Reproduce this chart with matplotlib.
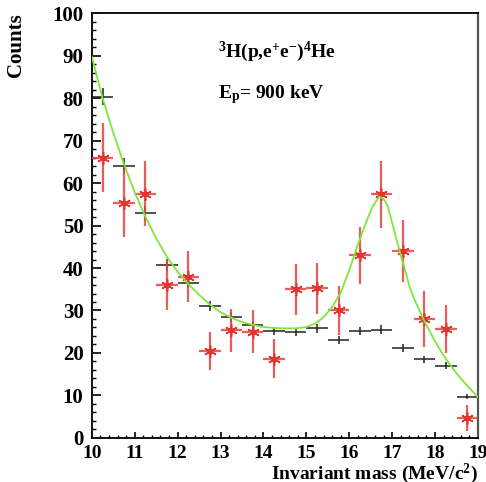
import matplotlib
matplotlib.use('Agg')
import matplotlib.pyplot as plt
from matplotlib.ticker import MultipleLocator
import numpy as np

plt.rcParams['font.family'] = 'Liberation Serif'
plt.rcParams['font.weight'] = 'bold'
plt.rcParams['mathtext.fontset'] = 'custom'
plt.rcParams['mathtext.rm'] = 'Liberation Serif:bold'
plt.rcParams['mathtext.it'] = 'Liberation Serif:bold'
plt.rcParams['mathtext.bf'] = 'Liberation Serif:bold'
plt.rcParams['mathtext.default'] = 'rm'

# bin centres (0.5 MeV/c^2 bins)
mass = np.arange(10.25, 19.0, 0.5)
bin_half = 0.25

# black points (expected background)
bkg = [80.3, 64.0, 53.0, 40.7, 36.5, 31.0, 28.5, 26.5, 25.2,
       25.0, 25.8, 23.0, 25.2, 25.5, 21.2, 18.5, 17.0, 9.7]
bkg_err = [2.0, 1.8, 1.6, 1.4, 1.3, 1.2, 1.1, 1.0, 0.9,
           0.9, 1.0, 0.9, 0.9, 1.0, 0.9, 0.8, 0.8, 0.6]

# red points (measured)
meas = [66.0, 55.3, 57.5, 36.0, 38.0, 20.5, 25.3, 25.0, 18.7,
        35.0, 35.2, 30.0, 43.0, 57.3, 44.0, 28.0, 25.7, 4.7]
meas_err = [8.2, 8.0, 7.6, 6.0, 6.0, 4.5, 5.0, 5.0, 4.6,
            6.0, 6.0, 5.7, 6.7, 7.9, 7.2, 6.5, 5.6, 3.0]

# fit curve
fit_x = [10.0, 10.25, 10.5, 10.75, 11.0, 11.25, 11.5, 11.75, 12.0, 12.25,
         12.5, 12.75, 13.0, 13.25, 13.5, 13.75, 14.0, 14.25, 14.5, 14.75,
         15.0, 15.2, 15.4, 15.6, 15.8, 16.0, 16.2, 16.4, 16.55, 16.7,
         16.8, 16.9, 17.0, 17.1, 17.2, 17.3, 17.4, 17.5, 17.6, 17.75,
         18.0, 18.25, 18.5, 18.75, 19.0]
fit_y = [89.7, 80.0, 71.8, 64.4, 57.8, 52.0, 47.0, 42.6, 39.1, 36.2,
         33.7, 31.4, 29.6, 28.3, 27.3, 26.6, 26.1, 25.9, 25.8, 25.8,
         26.1, 26.9, 28.4, 30.8, 34.2, 39.5, 45.5, 51.0, 54.6, 56.8,
         56.3, 54.5, 50.6, 46.8, 43.0, 39.5, 35.8, 33.0, 30.8, 27.5,
         22.7, 18.6, 15.2, 12.3, 9.6]

fig = plt.figure(figsize=(4.86, 4.82), dpi=100)
ax = fig.add_axes([0.189, 0.0913, 0.7945, 0.8817])

ax.errorbar(mass, bkg, xerr=bin_half, yerr=bkg_err, fmt='none',
            ecolor='#222222', elinewidth=1.1, capsize=0, zorder=2)
ax.errorbar(mass, meas, xerr=bin_half, yerr=meas_err, fmt='none',
            ecolor='#e8413c', elinewidth=1.6, capsize=0, alpha=0.85, zorder=3)
ax.plot(mass, meas, linestyle='none', marker=(6, 2, 0), markersize=9,
        markeredgecolor='#e3342f', markeredgewidth=1.1, zorder=4)
ax.plot(mass, meas, linestyle='none', marker='o', markersize=3,
        color='#e3342f', zorder=4)
ax.plot(fit_x, fit_y, color='#7ee83a', lw=1.3, zorder=5)

ax.set_xlim(10, 19)
ax.set_ylim(0, 100)
ax.xaxis.set_major_locator(MultipleLocator(1))
ax.xaxis.set_minor_locator(MultipleLocator(0.2))
ax.yaxis.set_major_locator(MultipleLocator(10))
ax.yaxis.set_minor_locator(MultipleLocator(2))
ax.tick_params(axis='both', which='both', direction='in', top=False, right=False)
ax.tick_params(axis='y', which='major', length=6.5, width=1.2, pad=6, labelsize=15)
ax.tick_params(axis='y', which='minor', length=3, width=1.0)
ax.tick_params(axis='x', which='major', length=4.3, width=1.2, pad=5, labelsize=14)
ax.tick_params(axis='x', which='minor', length=2.2, width=1.0)
for lab in ax.get_xticklabels() + ax.get_yticklabels():
    lab.set_fontweight('bold')

for side in ['left', 'bottom', 'top']:
    ax.spines[side].set_linewidth(1.4)
    ax.spines[side].set_color('#111111')
ax.spines['right'].set_linewidth(1.6)
ax.spines['right'].set_color('#555555')

ax.set_xlabel('Invariant mass (MeV/c$^{2}$)', fontsize=14, fontweight='bold',
              loc='right', labelpad=0)
ax.set_ylabel('Counts', fontsize=15, fontweight='bold', loc='top')
ax.yaxis.set_label_coords(-0.171, 1.0)

ax.text(12.94, 89.6, r'$^{3}$H(p,e$^{+}$e$^{-}$)$^{4}$He', fontsize=14,
        fontweight='bold', ha='left', va='baseline')
ax.text(12.94, 80.0, r'E$_{\rm p}$= 900 keV', fontsize=14,
        fontweight='bold', ha='left', va='baseline')

fig.savefig('out.png', dpi=100)
